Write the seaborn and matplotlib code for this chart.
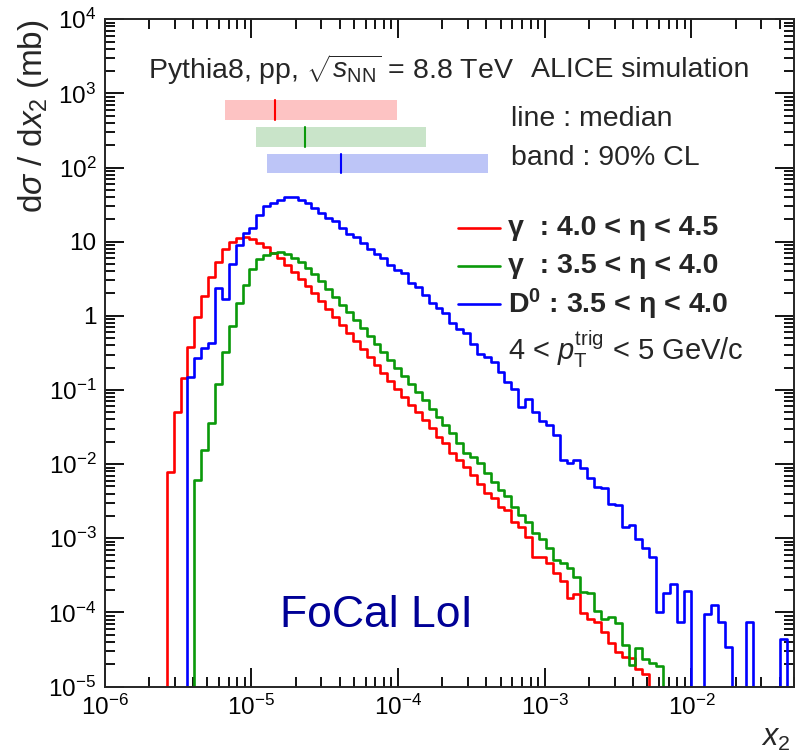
import numpy as np
import pandas as pd
import matplotlib
matplotlib.use("Agg")
import matplotlib.pyplot as plt
import seaborn as sns
from matplotlib.ticker import LogLocator, NullFormatter, FixedLocator, FixedFormatter

# ---------------- data ----------------
x_min, x_max, n_bins = 1e-6, 5e-2, 100

red_first_bin = 9
red_values = [0.0079, 0.051, 0.146, 0.383, 0.955, 1.85, 3.37, 5.27, 7.89, 9.98,
              11.1, 11.4, 10.9, 9.74, 8.47, 7.14, 5.93, 4.84, 3.90, 3.13,
              2.52, 2.00, 1.58, 1.24, 0.964, 0.752, 0.586, 0.457, 0.356, 0.278,
              0.217, 0.169, 0.132, 0.103, 0.0804, 0.0637, 0.0505, 0.0394, 0.0307, 0.0234,
              0.0192, 0.0141, 0.0114, 0.00922, 0.00713, 0.00540, 0.00408, 0.00349, 0.00267, 0.00240,
              0.00167, 0.00143, 0.00105, 0.000564, 0.000564, 0.000462, 0.000340, 0.000265, 0.000159, 0.000177,
              9.72e-5, 8.07e-5, 7.48e-5, 5.49e-5, 3.83e-5, 2.95e-5, 2.53e-5, 2.40e-5, 1.71e-5, 1.48e-5]

green_first_bin = 13
green_values = [0.00611, 0.0155, 0.0361, 0.120, 0.328, 0.728, 1.47, 2.60, 4.24, 5.78,
                6.71, 7.14, 7.2, 6.81, 6.11, 5.32, 4.48, 3.66, 2.94, 2.30,
                1.79, 1.42, 1.12, 0.877, 0.684, 0.535, 0.417, 0.325, 0.254, 0.198,
                0.154, 0.120, 0.0938, 0.0731, 0.0562, 0.0436, 0.0337, 0.0260, 0.0194, 0.0143,
                0.0126, 0.0103, 0.00766, 0.00578, 0.00448, 0.00372, 0.00267, 0.00206, 0.00167, 0.00117,
                0.000968, 0.000731, 0.000508, 0.000470, 0.000394, 0.000296, 0.000190, 0.000182, 0.000105, 8.07e-5,
                8.71e-5, 7.13e-5, 3.63e-5, 1.95e-5, 3.28e-5, 2.33e-5, 2.06e-5, 1.89e-5]

blue_first_bin = 12
blue_values = [0.151, 0.267, 0.372, 0.434, 2.35, 1.69, 5.00, 9.02, 13.2, 15.4,
               23.2, 30.3, 33.2, 37.0, 40.0, 40.0, 37.0, 32.9, 28.2, 24.3,
               20.8, 19.0, 15.3, 12.7, 11.4, 9.74, 7.96, 6.92, 6.11, 4.84,
               4.21, 3.74, 2.77, 2.42, 1.90, 1.47, 1.26, 1.08, 0.792, 0.664,
               0.581, 0.417, 0.305, 0.281, 0.240, 0.176, 0.129, 0.102, 0.0582, 0.0748,
               0.0509, 0.0387, 0.0337, 0.0246, 0.0115, 0.0103, 0.0114, 0.00877, 0.00659, 0.00496,
               0.00471, 0.00290, 0.00281, 0.00144, 0.00151, 0.000993, 0.000750, 0.000558, 0.000101, 0.000182,
               0.000245, 7.41e-5, 0.000196, 0, 0, 9.50e-5, 0.000126, 7.48e-5, 3.44e-5, 0,
               0, 7.48e-5, 0, 0, 0, 0, 4.34e-5]

series_names = ["gamma_40_45", "gamma_35_40", "D0_35_40"]
series_labels = ["\u03b3  : 4.0 < \u03b7 < 4.5",
                 "\u03b3  : 3.5 < \u03b7 < 4.0",
                 "D$^{\\mathbf{0}}$ : 3.5 < \u03b7 < 4.0"]
series_colors = ["#ff0000", "#0a990a", "#0000ff"]
band_colors = ["#fdc3c3", "#c9e4c9", "#bdc5f7"]

band_low = [6.58e-6, 1.07e-5, 1.28e-5]
band_median = [1.45e-5, 2.32e-5, 4.11e-5]
band_high = [9.86e-5, 1.55e-4, 4.07e-4]

x_tick_values = [1e-6, 1e-5, 1e-4, 1e-3, 1e-2]
x_tick_labels = [r"$10^{-6}$", r"$10^{-5}$", r"$10^{-4}$", r"$10^{-3}$", r"$10^{-2}$"]
y_tick_values = [1e-5, 1e-4, 1e-3, 1e-2, 1e-1, 1, 10, 1e2, 1e3, 1e4]
y_tick_labels = [r"$10^{-5}$", r"$10^{-4}$", r"$10^{-3}$", r"$10^{-2}$", r"$10^{-1}$",
                 "1", "10", r"$10^{2}$", r"$10^{3}$", r"$10^{4}$"]

# ---------------- style ----------------
sns.set_style("ticks")
plt.rcParams["font.family"] = ["Liberation Sans", "DejaVu Sans"]
plt.rcParams["mathtext.fontset"] = "custom"
plt.rcParams["mathtext.rm"] = "Liberation Sans"
plt.rcParams["mathtext.it"] = "Liberation Sans:italic"
plt.rcParams["mathtext.bf"] = "Liberation Sans:bold"
plt.rcParams["mathtext.sf"] = "Liberation Sans"

W, H = 795, 754
fig = plt.figure(figsize=(W / 100, H / 100), dpi=100)
ax_l, ax_r, ax_t, ax_b = 104.7, 794.0, 19.2, 686.6
ax = fig.add_axes([ax_l / W, 1 - ax_b / H, (ax_r - ax_l) / W, (ax_b - ax_t) / H])

log_edges = np.linspace(np.log10(x_min), np.log10(x_max), n_bins + 1)
centers = 10 ** (0.5 * (log_edges[:-1] + log_edges[1:]))

rows = []
for name, first, vals in zip(series_names,
                             [red_first_bin, green_first_bin, blue_first_bin],
                             [red_values, green_values, blue_values]):
    full = np.zeros(n_bins)
    full[first:first + len(vals)] = vals
    rows.append(pd.DataFrame({"x": centers, "w": full, "series": name}))
df = pd.concat(rows, ignore_index=True)

for name, color in zip(series_names, series_colors):
    sns.histplot(data=df[df["series"] == name], x="x", weights="w",
                 bins=[float(b) for b in log_edges], element="step", fill=False,
                 log_scale=(True, True), color=color, linewidth=1.9, ax=ax)

# empty bins: let the step outline drop to the bottom of the log axis (ROOT style)
for line in list(ax.lines):
    y = np.asarray(line.get_ydata(), dtype=float)
    line.set_ydata(np.where(y > 0, y, 1e-12))

ax.set_xlim(x_min, x_max)
ax.set_ylim(1e-5, 1e4)

# bands (median line + 90% CL)
band_rows = [(0.849, 0.879), (0.809, 0.838), (0.770, 0.798)]
for lo, med, hi, c, bc, (y0, y1) in zip(band_low, band_median, band_high,
                                        series_colors, band_colors, band_rows):
    ax.axvspan(lo, hi, ymin=y0, ymax=y1, color=bc, lw=0, zorder=1)
    ax.axvline(med, ymin=y0, ymax=y1, color=c, lw=1.5, zorder=2)

# ticks
ax.xaxis.set_major_locator(FixedLocator(x_tick_values))
ax.xaxis.set_major_formatter(FixedFormatter(x_tick_labels))
ax.xaxis.set_minor_locator(LogLocator(base=10, subs=np.arange(2, 10), numticks=50))
ax.xaxis.set_minor_formatter(NullFormatter())
ax.yaxis.set_major_locator(FixedLocator(y_tick_values))
ax.yaxis.set_major_formatter(FixedFormatter(y_tick_labels))
ax.yaxis.set_minor_locator(LogLocator(base=10, subs=np.arange(2, 10), numticks=50))
ax.yaxis.set_minor_formatter(NullFormatter())
ax.tick_params(which="both", direction="in", top=True, right=True, width=1.3, colors="black")
ax.tick_params(which="major", length=14, labelsize=17.5, pad=6)
ax.tick_params(which="minor", length=7)
for sp in ax.spines.values():
    sp.set_linewidth(1.4)
    sp.set_visible(True)

ax.set_xlabel(r"$x_{2}$", fontsize=22, loc="right")
ax.xaxis.set_label_coords(0.995, -0.055)
ax.set_ylabel(r"d$\sigma$ / d$x_{2}$ (mb)", fontsize=24, loc="top")
ax.yaxis.set_label_coords(-0.078, 1.0)

# texts
tr = ax.transAxes
fs = 20.5
ax.text(0.0627, 0.924, r"Pythia8, pp, $\sqrt{s_{\rm NN}}$ = 8.8 TeV", transform=tr,
        fontsize=fs, va="center", ha="left")
ax.text(0.619, 0.924, "ALICE simulation", transform=tr, fontsize=fs, va="center", ha="left")
ax.text(0.590, 0.850, "line : median", transform=tr, fontsize=fs, va="center", ha="left")
ax.text(0.590, 0.792, "band : 90% CL", transform=tr, fontsize=fs, va="center", ha="left")

leg_rows = [0.687, 0.630, 0.573]
for lab, c, yy in zip(series_labels, series_colors, leg_rows):
    ax.plot([0.513, 0.574], [yy, yy], color=c, lw=1.9, transform=tr)
    ax.text(0.585, yy, lab, transform=tr, fontsize=20.5, fontweight="bold",
            va="center", ha="left")
ax.text(0.585, 0.505, r"4 < $p_{\rm T}^{\rm trig}$ < 5 GeV/c", transform=tr,
        fontsize=21, va="center", ha="left")

ax.text(0.394, 0.0893, "FoCal LoI", transform=tr, fontsize=32, color="#000096",
        va="baseline", ha="center")

fig.savefig("out.png", dpi=100)
